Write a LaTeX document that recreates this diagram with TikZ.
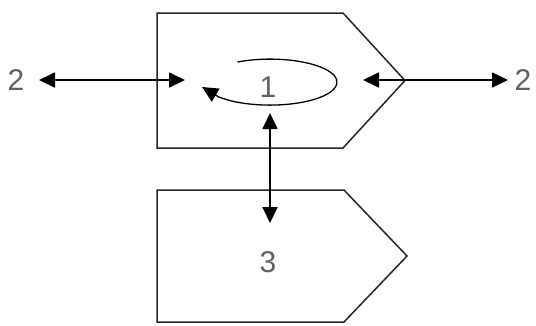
\documentclass[tikz,border=0pt]{standalone}
\usepackage{fontspec}
\setmainfont{Liberation Sans}
\usetikzlibrary{arrows.meta}
\begin{document}
\begin{tikzpicture}[x=1pt,y=-1pt,
  boxline/.style={line width=1.5pt, draw=black!85, line join=miter},
  conn/.style={line width=1.8pt, draw=black, {Triangle[length=16pt,width=15pt]}-{Triangle[length=16pt,width=15pt]}},
  loopline/.style={line width=1.3pt, draw=black, -{Triangle[length=16pt,width=15pt]}},
  lbl/.style={text=black!62, font=\fontsize{30}{30}\selectfont, inner sep=0pt}]
\useasboundingbox (0,0) rectangle (536,325);
% process boxes
\draw[boxline] (157,13) -- (343,13) -- (405,80.5) -- (343,148) -- (157,148) -- cycle;
\draw[boxline] (157,190) -- (344,190) -- (407,256) -- (344,322) -- (157,322) -- cycle;
% labels
\node[lbl] (n1) at (268,87) {1};
\node[lbl] (n3) at (268,262) {3};
\node[lbl] (n2l) at (16,80) {2};
\node[lbl] (n2r) at (523,80) {2};
% connector end points
\coordinate (l1) at (39,80);
\coordinate (l2) at (185,80);
\coordinate (r1) at (363,80);
\coordinate (r2) at (508,80);
\coordinate (v1) at (270,113);
\coordinate (v2) at (270,223);
\coordinate (loopstart) at (237.5,62);
\coordinate (loopend) at (202,87);
\draw[conn] (l1) -- (l2);
\draw[conn] (r1) -- (r2);
\draw[conn] (v1) -- (v2);
% self loop
\draw[loopline] (loopstart) arc[start angle=241, end angle=500, x radius=67, y radius=23] -- (loopend);
\end{tikzpicture}
\end{document}
